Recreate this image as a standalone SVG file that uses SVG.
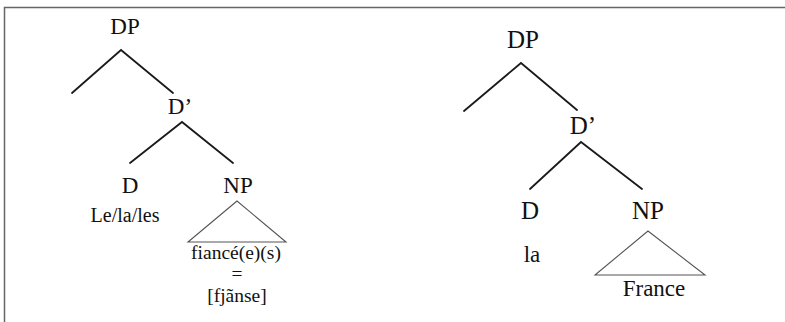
<svg xmlns="http://www.w3.org/2000/svg" width="785" height="322" viewBox="0 0 785 322">
<defs>
<style>
  text { font-family: 'Liberation Serif', 'Times New Roman', serif; fill: #111; text-anchor: middle; }
  .lbl { font-size: 23px; }
  .lblr { font-size: 25px; }
  .leaf { font-size: 20px; }
  .stack { font-size: 19.5px; }
  .leafr { font-size: 23px; }
  .br { stroke: #1a1a1a; stroke-width: 1.8; fill: none; stroke-linecap: round; }
  .tri { stroke: #555; stroke-width: 1.1; fill: none; }
  .frame { stroke: #666; stroke-width: 1.5; fill: none; }
</style>
</defs>
<rect width="785" height="322" fill="#fff"/>
<path class="frame" d="M4.5,323 V7.5 H786"/>
<g id="connectors">
  <polyline class="br" points="72,93 121,50 173,93"/>
  <polyline class="br" points="130,163 182,122 233,163"/>
  <polyline class="br" points="464,111 521,63 577,110"/>
  <polyline class="br" points="530,189 581,142 642,189"/>
</g>
<g id="left-tree">
  <g id="l-dp"><text class="lbl" x="125" y="34">DP</text></g>
  <g id="l-dbar"><text class="lbl" x="180" y="114">D’</text></g>
  <g id="l-d"><text class="lbl" x="130" y="193">D</text></g>
  <g id="l-np"><text class="lbl" x="238" y="193">NP</text></g>
  <g id="l-det"><text class="leaf" x="125" y="222">Le/la/les</text></g>
  <g id="l-np-tri"><polygon class="tri" points="237,201 188,242 286,242"/>
    <text class="stack" x="236" y="259">fiancé(e)(s)</text>
    <text class="stack" x="237" y="280">=</text>
    <text class="stack" x="237" y="302">[fjãnse]</text>
  </g>
</g>
<g id="right-tree">
  <g id="r-dp"><text class="lblr" x="523" y="48">DP</text></g>
  <g id="r-dbar"><text class="lblr" x="583" y="134">D’</text></g>
  <g id="r-d"><text class="lblr" x="530" y="219">D</text></g>
  <g id="r-np"><text class="lblr" x="648" y="219">NP</text></g>
  <g id="r-det"><text class="leafr" x="532" y="262">la</text></g>
  <g id="r-np-tri"><polygon class="tri" points="648,231 595,275 705,275"/>
    <text class="leafr" x="654" y="296">France</text>
  </g>
</g>
</svg>
